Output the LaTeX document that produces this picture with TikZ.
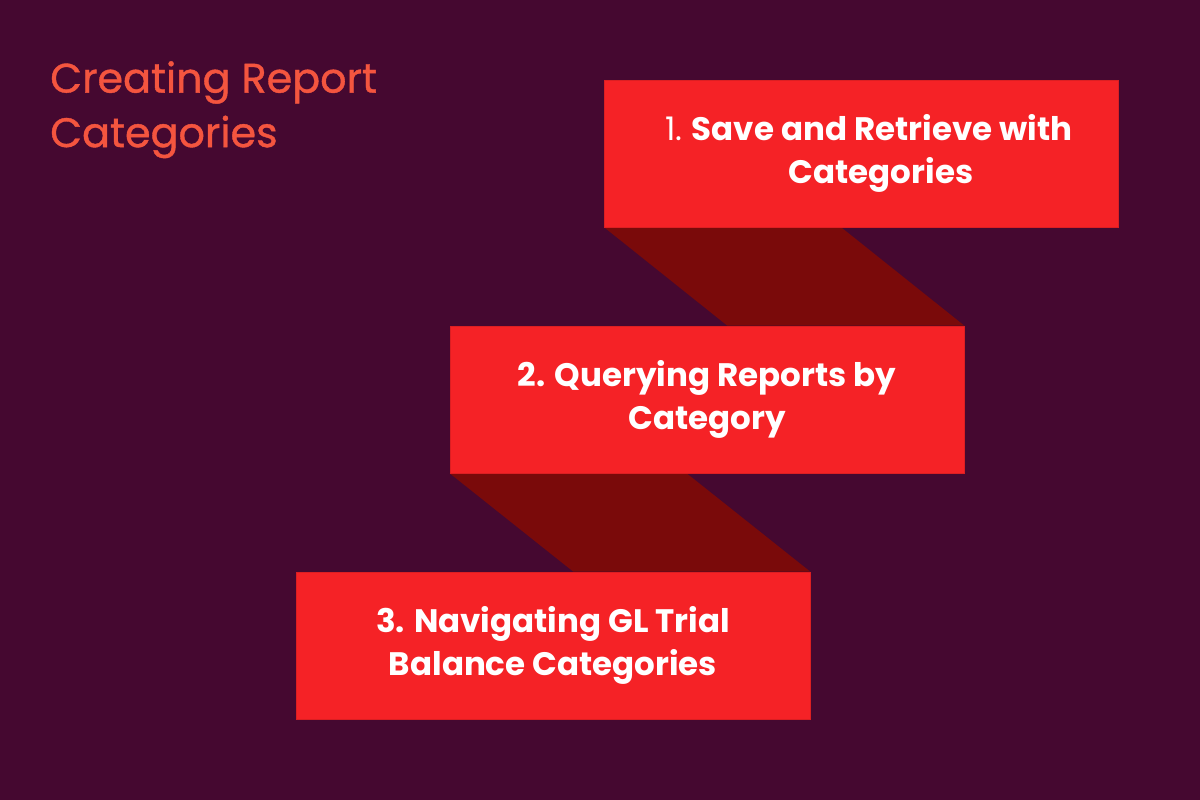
\documentclass[tikz,border=0pt]{standalone}
\usepackage{fontspec}
\setmainfont{Poppins}
\usetikzlibrary{backgrounds}
\definecolor{plum}{HTML}{450830}
\definecolor{boxred}{HTML}{F52226}
\definecolor{bandred}{HTML}{7A0A0A}
\definecolor{titlered}{HTML}{F4553F}
\tikzset{
  stepbox/.style={rectangle,fill=boxred,draw=boxred!90!black,line width=0.4pt,
    minimum width=10.28cm,minimum height=2.94cm,align=center,text=white,
    font=\fontsize{18.5}{24}\selectfont\bfseries,inner sep=0pt,
    execute at begin node={\rule{0pt}{19pt}}},
  band/.style={fill=bandred},
  heading/.style={anchor=north west,align=left,text=titlered,
    font=\fontsize{23.5}{31}\selectfont\addfontfeatures{FakeBold=0.9}},
}
\begin{document}
\begin{tikzpicture}[x=0.02cm,y=-0.02cm]
  \useasboundingbox (0,0) rectangle (1200,800);
  \node[heading] (title) at (44,55) {Creating Report\\Categories};
  \node[stepbox] (s1) at (861.5,153.5) {\hspace*{0.45em}{\mdseries 1.} Save and Retrieve with\\\hspace*{1.2em}Categories};
  \node[stepbox] (s2) at (707,399.5) {2. Querying Reports by\\Category};
  \node[stepbox] (s3) at (553,645.5) {3. Navigating GL Trial\\Balance Categories};
  \begin{pgfonlayer}{background}
    \fill[plum] (0,0) rectangle (1200,800);
    \fill[band] (s1.south west) -- ([xshift=237*0.02cm]s1.south west)
      -- (s2.north east) -- ([xshift=-237*0.02cm]s2.north east) -- cycle;
    \fill[band] (s2.south west) -- ([xshift=237*0.02cm]s2.south west)
      -- (s3.north east) -- ([xshift=-237*0.02cm]s3.north east) -- cycle;
  \end{pgfonlayer}
\end{tikzpicture}
\end{document}
